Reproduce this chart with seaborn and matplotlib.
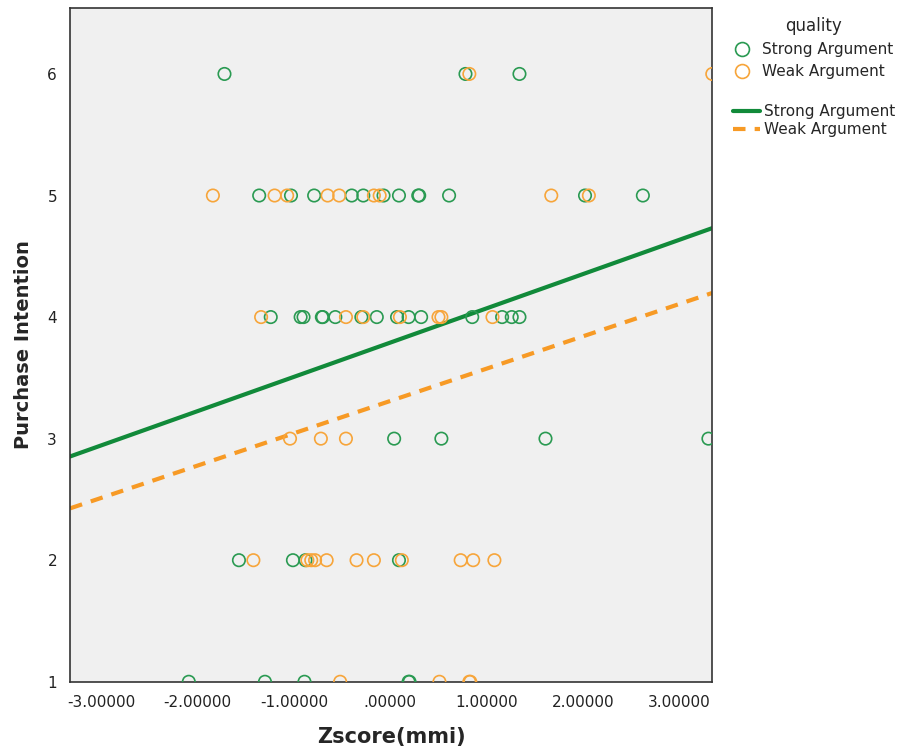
import numpy as np
import pandas as pd
import seaborn as sns
import matplotlib.pyplot as plt
from matplotlib.lines import Line2D

# values (Zscore(mmi) vs purchase intention)
strong_x = [-1.72, 0.78, 1.34,
            -1.36, -1.03, -0.79, -0.40, -0.28, -0.07, 0.09, 0.29, 0.30, 0.61, 2.02, 2.62,
            -1.24, -0.93, -0.90, -0.71, -0.70, -0.57, -0.30, -0.14, 0.07, 0.19, 0.32, 0.85, 1.16, 1.26, 1.34,
            0.04, 0.53, 1.61, 3.30,
            -1.57, -1.01, -0.88, 0.09,
            -2.09, -1.30, -0.89, 0.19, 0.20]
strong_y = [6, 6, 6,
            5, 5, 5, 5, 5, 5, 5, 5, 5, 5, 5, 5,
            4, 4, 4, 4, 4, 4, 4, 4, 4, 4, 4, 4, 4, 4, 4,
            3, 3, 3, 3,
            2, 2, 2, 2,
            1, 1, 1, 1, 1]

weak_x = [0.82, 3.34,
          -1.84, -1.20, -1.07, -0.65, -0.53, -0.17, -0.11, 1.67, 2.06,
          -1.34, -0.46, -0.28, 0.10, 0.50, 0.53, 1.06,
          -1.04, -0.72, -0.46,
          -1.42, -0.86, -0.82, -0.78, -0.66, -0.35, -0.17, 0.12, 0.73, 0.86, 1.08,
          -0.52, 0.51, 0.82, 0.83]
weak_y = [6, 6,
          5, 5, 5, 5, 5, 5, 5, 5, 5,
          4, 4, 4, 4, 4, 4, 4,
          3, 3, 3,
          2, 2, 2, 2, 2, 2, 2, 2, 2, 2, 2,
          1, 1, 1, 1]

groups = ["Strong Argument", "Weak Argument"]
fit_intercept = [3.79, 3.31]
fit_slope = [0.282, 0.266]
colors = ["#2a9a52", "#f7a53a"]
line_colors = ["#118a3a", "#f79a25"]

df = pd.concat([
    pd.DataFrame({"z": strong_x, "pi": strong_y, "quality": groups[0]}),
    pd.DataFrame({"z": weak_x, "pi": weak_y, "quality": groups[1]}),
], ignore_index=True)

xlim = (-3.32, 3.34)

sns.set_style("white")
plt.rcParams["font.family"] = ["DejaVu Sans"]

fig = plt.figure(figsize=(9.12, 7.55), dpi=100)
ax = fig.add_axes([0.077, 0.097, 0.704, 0.892])
ax.set_facecolor("#f0f0f0")

for g, col in zip(groups, colors):
    sns.scatterplot(data=df[df["quality"] == g], x="z", y="pi", marker="o", s=80,
                    fc="none", ec=col, linewidth=1.2, ax=ax, legend=False,
                    zorder=3, clip_on=True)

xs = np.array(xlim)
for g, b0, b1, col in zip(groups, fit_intercept, fit_slope, line_colors):
    line = pd.DataFrame({"z": xs, "pi": b0 + b1 * xs})
    sns.lineplot(data=line, x="z", y="pi", color=col, lw=3, ax=ax, zorder=2)
ax.lines[1].set_dashes([3, 2.2])

ax.set_xlim(*xlim)
ax.set_ylim(1, 6.54)
ax.set_xticks([-3, -2, -1, 0, 1, 2, 3])
ax.set_xticklabels(["-3.00000", "-2.00000", "-1.00000", ".00000", "1.00000", "2.00000", "3.00000"])
ax.set_yticks([1, 2, 3, 4, 5, 6])
ax.tick_params(axis="both", direction="out", length=6, width=1.2, labelsize=11, colors="#222222")
for sp in ax.spines.values():
    sp.set_color("#333333")
    sp.set_linewidth(1.2)

ax.set_xlabel("Zscore(mmi)", fontsize=15, fontweight="bold", labelpad=12)
ax.set_ylabel("Purchase Intention", fontsize=14, fontweight="bold", labelpad=10)

pt_handles = [Line2D([], [], ls="none", marker="o", ms=10, mfc="none", mec=c, mew=1.2) for c in colors]
ln_handles = [Line2D([], [], color=line_colors[0], lw=3),
              Line2D([], [], color=line_colors[1], lw=3, dashes=[3, 2.2])]
fig.legend(pt_handles, groups, title="quality", loc="upper left",
           bbox_to_anchor=(0.797, 0.985), frameon=False, fontsize=11,
           title_fontsize=12, handlelength=1.2, handletextpad=0.7,
           labelspacing=0.45, borderaxespad=0)
fig.legend(ln_handles, groups, loc="upper left", bbox_to_anchor=(0.797, 0.87),
           frameon=False, fontsize=11, handlelength=1.8, handletextpad=0.2,
           labelspacing=0.2, borderaxespad=0)

fig.savefig("out.png", dpi=100)
